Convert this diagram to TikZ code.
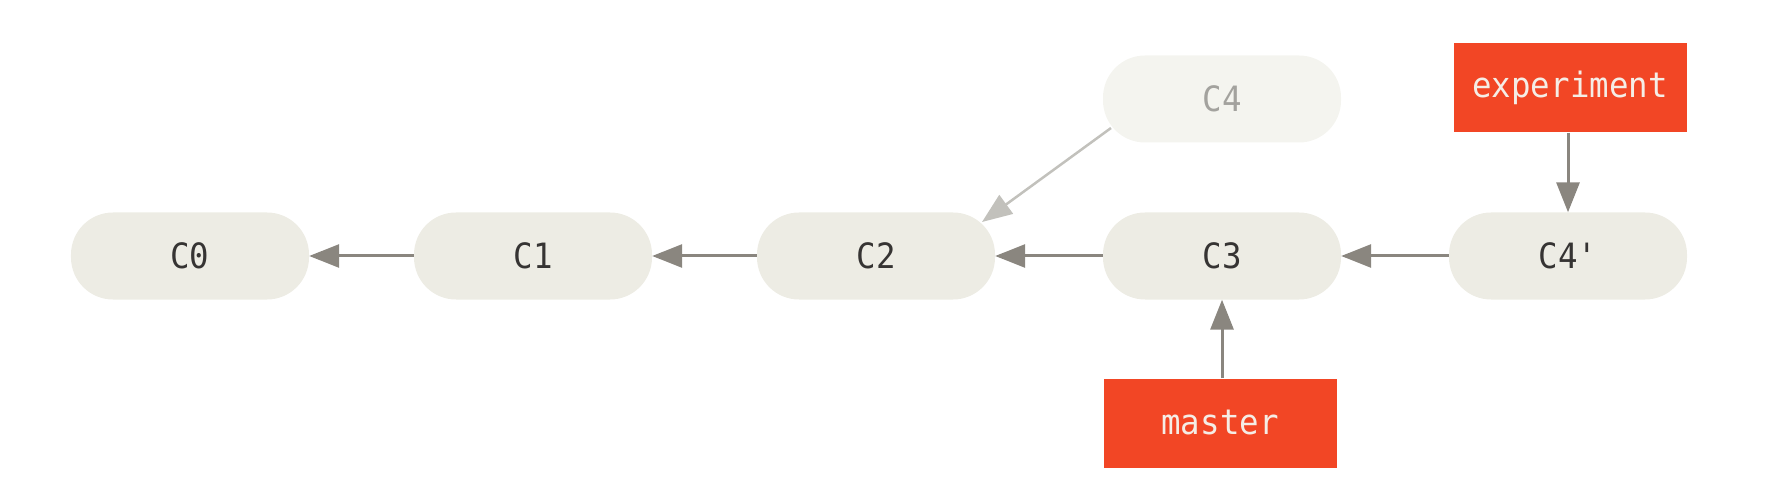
\documentclass[tikz,border=0pt]{standalone}
\usepackage{fontspec}
\newfontfamily\codefont[FakeStretch=0.93]{DejaVu Sans Mono}
\usetikzlibrary{arrows.meta}
\definecolor{pillfill}{HTML}{EDECE4}
\definecolor{ghostfill}{HTML}{F4F4EF}
\definecolor{ghosttext}{HTML}{A3A29E}
\definecolor{pilltext}{HTML}{363433}
\definecolor{gitred}{HTML}{F24625}
\definecolor{redtext}{HTML}{F5EDE6}
\definecolor{arrowgray}{HTML}{8A867F}
\definecolor{ghostarrow}{HTML}{C2C1BC}
\tikzset{
  commit/.style={fill=pillfill, rounded corners=42bp, minimum width=238bp, minimum height=87bp,
    inner sep=0pt, text=pilltext, font=\codefont\fontsize{35}{35}\selectfont},
  ghost/.style={commit, fill=ghostfill, text=ghosttext},
  branch/.style={fill=gitred, minimum width=233bp, minimum height=89bp, inner sep=0pt,
    text=redtext, font=\codefont\fontsize{35}{35}\selectfont},
  conn/.style={draw=arrowgray, line width=3bp, -{Triangle[length=30bp,width=23bp]}},
  ghostconn/.style={conn, draw=ghostarrow, line width=2.5bp}
}
\begin{document}
\begin{tikzpicture}[x=1bp,y=-1bp]
\useasboundingbox (0,0) rectangle (1792,504);
\node[commit] (C0) at (190,256) {C0};
\node[commit] (C1) at (533,256) {C1};
\node[commit] (C2) at (876,256) {C2};
\node[commit] (C3) at (1222,256) {C3};
\node[commit] (C4p) at (1568,256) {C4'};
\node[ghost] (C4) at (1222,99) {C4};
\node[branch] (exp) at (1570,88) {experiment};
\node[branch] (master) at (1220,423) {master};
\draw[conn] (C1.west) -- (C0.east);
\draw[conn] (C2.west) -- (C1.east);
\draw[conn] (C3.west) -- (C2.east);
\draw[conn] (C4p.west) -- (C3.east);
\draw[ghostconn] ([shift={(-111,29)}]C4.center) -- ([shift={(106,-34)}]C2.center);
\draw[conn] (exp.south -| C4p.north) -- (C4p.north);
\draw[conn] (master.north -| C3.south) -- (C3.south);
\end{tikzpicture}
\end{document}
